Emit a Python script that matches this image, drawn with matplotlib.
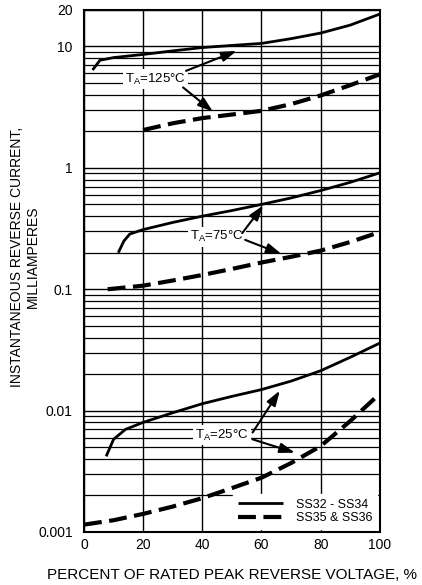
"""Reverse leakage current vs. percent of rated peak reverse voltage (SS32-SS36)."""

import matplotlib
matplotlib.use("Agg")
import matplotlib.pyplot as plt
from matplotlib.ticker import FixedLocator, LogLocator, NullFormatter

plt.rcParams["font.family"] = ["Liberation Sans", "DejaVu Sans"]
plt.rcParams["mathtext.default"] = "regular"

# ---- data ------------------------------------------------------------------
# T_A = 125 C
pct_125_ss34 = [2.9, 5.4, 10, 20, 30, 40, 50, 60, 70, 80, 90, 100]
ir_125_ss34 = [6.4, 7.7, 8.1, 8.6, 9.2, 9.8, 10.2, 10.6, 11.6, 12.9, 15.0, 18.5]
pct_125_ss36 = [20, 30, 40, 50, 60, 70, 80, 90, 100]
ir_125_ss36 = [2.05, 2.33, 2.57, 2.75, 2.95, 3.35, 3.95, 4.8, 5.9]

# T_A = 75 C
pct_75_ss34 = [11.6, 13.5, 15.5, 20, 30, 40, 50, 60, 70, 80, 90, 100]
ir_75_ss34 = [0.20, 0.25, 0.285, 0.31, 0.355, 0.40, 0.445, 0.50, 0.565, 0.65, 0.76, 0.91]
pct_75_ss36 = [8, 20, 30, 40, 50, 60, 70, 80, 90, 100]
ir_75_ss36 = [0.100, 0.107, 0.118, 0.131, 0.147, 0.166, 0.185, 0.208, 0.245, 0.296]

# T_A = 25 C
pct_25_ss34 = [7.5, 10, 14, 20, 30, 40, 50, 60, 70, 80, 90, 100]
ir_25_ss34 = [0.0042, 0.0058, 0.0070, 0.0080, 0.0096, 0.0114, 0.0131, 0.0149,
              0.0175, 0.0213, 0.0275, 0.036]
pct_25_ss36 = [0, 10, 20, 30, 40, 50, 60, 70, 80, 90, 100]
ir_25_ss36 = [0.00115, 0.00125, 0.00141, 0.00162, 0.0019, 0.0023, 0.0028,
              0.0037, 0.0051, 0.0082, 0.0138]

x_ticks = [0, 20, 40, 60, 80, 100]
y_ticks = [0.001, 0.01, 0.1, 1, 10, 20]
y_tick_labels = ["0.001", "0.01", "0.1", "1", "10", "20"]

# label text, label position, arrow tips
temp_labels = ["T$_{A}$=125°C", "T$_{A}$=75°C", "T$_{A}$=25°C"]
label_pos = [(24.3, 5.4), (44.9, 0.27), (46.6, 0.0063)]
arrow_tips = [[(51.6, 9.2), (43.6, 2.9)],
              [(60.6, 0.49), (66.8, 0.195)],
              [(66.2, 0.0146), (71.3, 0.0045)]]
arrow_tails = [[(34.5, 6.3), (33.5, 4.6)],
               [(53.5, 0.29), (54.5, 0.255)],
               [(57.0, 0.0066), (57.0, 0.0058)]]

series_names = ["SS32 - SS34", "SS35 & SS36"]

# ---- figure ----------------------------------------------------------------
fig = plt.figure(figsize=(4.22, 5.85), dpi=100)
ax = fig.add_axes([0.199, 0.0906, 0.701, 0.8924])

ax.set_yscale("log")
ax.set_xlim(0, 100)
ax.set_ylim(0.001, 20)

ax.xaxis.set_major_locator(FixedLocator(x_ticks))
ax.yaxis.set_major_locator(FixedLocator(y_ticks))
ax.set_yticklabels(y_tick_labels)
ax.yaxis.set_minor_locator(LogLocator(base=10, subs=range(2, 10), numticks=20))
ax.yaxis.set_minor_formatter(NullFormatter())
ax.tick_params(which="both", length=0, labelsize=10, colors="black")
ax.tick_params(axis="y", pad=8)
ax.tick_params(axis="x", pad=4)

ax.grid(True, which="major", axis="both", color="black", lw=1.0)
ax.grid(True, which="minor", axis="y", color="black", lw=0.9)
ax.set_axisbelow(True)
for sp in ax.spines.values():
    sp.set_linewidth(1.5)

solid_kw = dict(color="black", lw=2.0, solid_capstyle="butt", zorder=3)
dash_kw = dict(color="black", lw=3.0, dashes=(4.3, 1.8), zorder=3)

ax.plot(pct_125_ss34, ir_125_ss34, label=series_names[0], **solid_kw)
ax.plot(pct_125_ss36, ir_125_ss36, label=series_names[1], **dash_kw)
ax.plot(pct_75_ss34, ir_75_ss34, **solid_kw)
ax.plot(pct_75_ss36, ir_75_ss36, **dash_kw)
ax.plot(pct_25_ss34, ir_25_ss34, **solid_kw)
ax.plot(pct_25_ss36, ir_25_ss36, **dash_kw)

for text, pos, tips, tails in zip(temp_labels, label_pos, arrow_tips, arrow_tails):
    ax.text(pos[0], pos[1], text, fontsize=9.5, ha="center", va="center", zorder=5,
            bbox=dict(facecolor="white", edgecolor="none", pad=1.5))
    for tip, tail in zip(tips, tails):
        ax.annotate("", xy=tip, xytext=tail, zorder=6,
                    arrowprops=dict(arrowstyle="-|>,head_length=0.9,head_width=0.3",
                                    color="black", lw=1.5, shrinkA=0, shrinkB=0))

leg = ax.legend(loc="lower right", fontsize=9, handlelength=3.6, handletextpad=1.0,
                frameon=True, fancybox=False, borderaxespad=0.2, labelspacing=0.15,
                borderpad=0.4)
leg.get_frame().set_facecolor("white")
leg.get_frame().set_edgecolor("white")
leg.get_frame().set_alpha(1)
leg.set_zorder(7)

ax.set_xlabel("PERCENT OF RATED PEAK REVERSE VOLTAGE, %", fontsize=11, labelpad=12)
fig.text(25 / 422, 1 - 257 / 585, "INSTANTANEOUS REVERSE CURRENT,\nMILLIAMPERES",
         fontsize=10, rotation=90, ha="center", va="center", multialignment="center",
         linespacing=1.15)

fig.savefig("out.png", dpi=100)
